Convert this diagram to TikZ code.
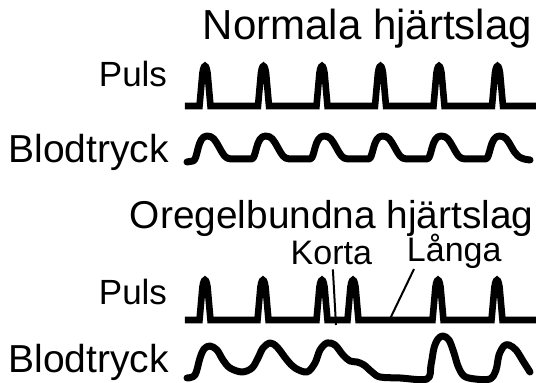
\documentclass[tikz,border=0pt]{standalone}
\usepackage{fontspec}
\setmainfont{Liberation Sans}
\usetikzlibrary{positioning}

\begin{document}
\begin{tikzpicture}[x=0.5pt, y=-0.5pt,
  font=\fontsize{17}{20}\selectfont,
  lbl/.style={inner sep=0pt, outer sep=0pt},
  head/.style={lbl, font=\fontsize{21}{24}\selectfont},
  side/.style={lbl, anchor=base east, font=\fontsize{19.5}{22}\selectfont},
  trace/.style={line width=3.3pt},
  bp/.style={line width=3.5pt, line join=round, line cap=round},
  pointer/.style={line width=1pt}]
\useasboundingbox (0,0) rectangle (538,383);
% normal beats
\node[head, anchor=base west] (title-normal) at (203,40) {Normala hjärtslag};
\node[lbl, anchor=base east, font=\fontsize{17.5}{20}\selectfont] (puls-a) at (167,87) {Puls};
\node[side] (tryck-a) at (169,163) {Blodtryck};
\draw[trace] (185,106) \foreach \c in {205,263.5,322,380.5,439,497.5}{
  -- ({\c-5.5},106) -- ({\c-3},78) .. controls ({\c-2},62) and ({\c+2},62) .. ({\c+3},78) -- ({\c+5.5},106)} -- (536,106);
\draw[bp] (187,162) -- (193,161)
  .. controls (198,160) and (197,136) .. (207,136)
  \foreach \c/\n in {205/263.5, 263.5/322, 322/380.5, 380.5/439, 439/497.5}{
    .. controls ({\c+8},136) and ({\c+10},140) .. ({\c+14},147)
    .. controls ({\c+18},154) and ({\c+20},159) .. ({\c+26},159) -- ({\n-12},159)
    .. controls ({\n-7},159) and ({\n-8},136) .. ({\n+2},136)}
  .. controls (505.5,136) and (507.5,140) .. (511.5,147)
  .. controls (515.5,154) and (518,159) .. (530,160);
% irregular beats
\node[lbl, anchor=base west, font=\fontsize{19.4}{22}\selectfont] (title-irr) at (130,229) {Oregelbundna hjärtslag};
\node[lbl, anchor=base east] (korta) at (372,265) {Korta};
\node[lbl, anchor=base west] (langa) at (407,262) {Långa};
\node[lbl, anchor=base east, font=\fontsize{17.5}{20}\selectfont] (puls-b) at (167,305) {Puls};
\node[side] (tryck-b) at (169,373) {Blodtryck};
\draw[trace] (185,320) \foreach \c in {205,263,322,353,438,497}{
  -- ({\c-5.5},320) -- ({\c-3},292) .. controls ({\c-2},276) and ({\c+2},276) .. ({\c+3},292) -- ({\c+5.5},320)} -- (536,320);
\draw[bp] plot[smooth, tension=0.55] coordinates {
  (187,378) (195,375) (200,358) (204,349) (210,346) (217,350) (223,360) (230,368)
  (242,372) (252,368) (258,358) (263,348) (270,343) (277,347) (287,360) (295,368)
  (307,372) (315,363) (320,350) (327,343) (335,345) (343,355) (350,361) (357,362)
  (364,365) (372,372) (380,377) (400,378) (427,379) (431,365) (434,348) (438,339)
  (443,336) (449,340) (454,353) (458,366) (464,376) (475,379) (490,379) (496,370)
  (499,355) (504,346) (509,345) (516,350) (523,361) (530,372)};
\coordinate (korta-end) at (336,325);
\coordinate (langa-end) at (389,321);
\draw[pointer] ([xshift=0.75pt, yshift=-2pt]korta.south) -- (korta-end);
\draw[pointer] ([xshift=3.5pt]langa.south west) -- (langa-end);
\end{tikzpicture}
\end{document}
